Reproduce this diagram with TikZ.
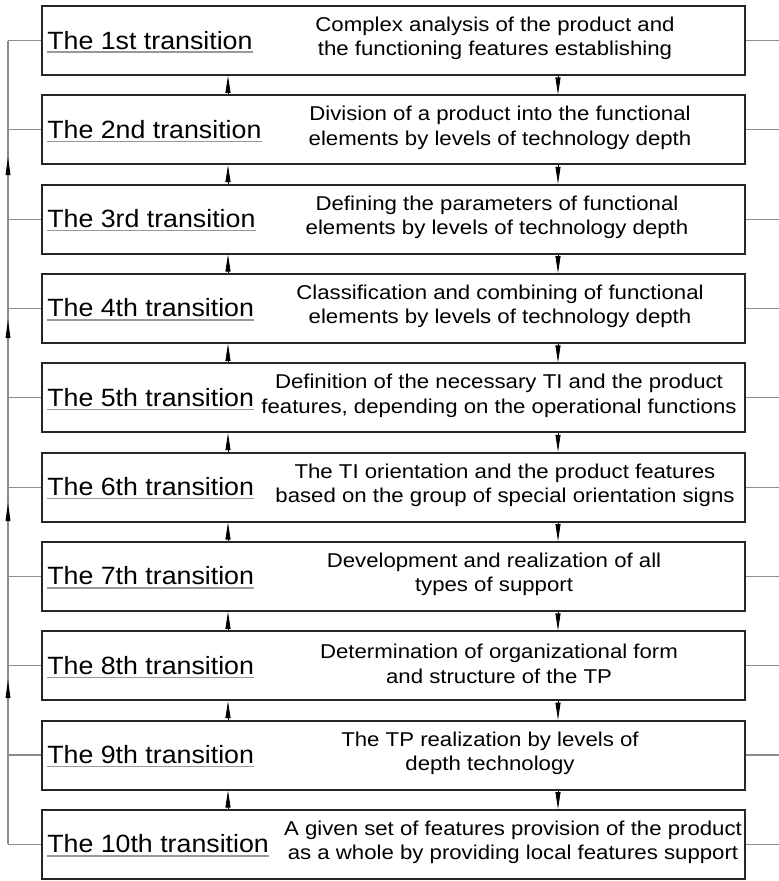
\documentclass[tikz,border=0pt]{standalone}
\usepackage{fontspec}
\setmainfont{Liberation Sans}
\newfontfamily\labfont[FakeStretch=1.07]{Liberation Sans}
\newfontfamily\descfont[FakeStretch=1.11]{Liberation Sans}
\usetikzlibrary{arrows.meta}
\begin{document}
\begin{tikzpicture}[x=1pt,y=-1pt,
  box/.style={draw=black!85, line width=1.8pt, minimum width=703pt, minimum height=69pt, inner sep=0pt},
  lab/.style={anchor=base west, inner sep=0pt, font=\labfont\fontsize{25}{30}\selectfont},
  desc/.style={align=center, inner sep=0pt, font=\descfont\fontsize{20}{24.5}\selectfont},
  conn/.style={draw=black!45, line width=1.3pt},
  uline/.style={draw=black!40, line width=1.2pt},
  flow/.style={line width=0.8pt, -{Triangle[length=17pt,width=5pt]}},
  sidetip/.style={fill=black},
]
\useasboundingbox (0,0) rectangle (779,881);
\coordinate (ux) at (228,0);
\coordinate (dx) at (558,0);
\foreach \i/\xc/\lab/\txt in {
 1/495/1st/{Complex analysis of the product and\\the functioning features establishing},
 2/500/2nd/{Division of a product into the functional\\elements by levels of technology depth},
 3/497/3rd/{Defining the parameters of functional\\elements by levels of technology depth},
 4/500/4th/{Classification and combining of functional\\elements by levels of technology depth},
 5/499/5th/{Definition of the necessary TI and the product\\features, depending on the operational functions},
 6/505/6th/{The TI orientation and the product features\\based on the group of special orientation signs},
 7/494/7th/{Development and realization of all\\types of support},
 8/499/8th/{Determination of organizational form\\and structure of the TP},
 9/490/9th/{The TP realization by levels of\\depth technology},
 10/513/10th/{A given set of features provision of the product\\as a whole by providing local features support}} {
  \pgfmathsetmacro\yc{40.5+89.33*(\i-1)}
  \node[box] (b\i) at (393.5,\yc) {};
  \node[lab] (l\i) at ([xshift=6pt,yshift=-8.5pt]b\i.west) {The \lab\ transition};
  \draw[uline] ([yshift=-3pt]l\i.base west) -- ([yshift=-3pt]l\i.base east);
  \node[desc] (d\i) at (\xc,\yc-2) {\txt};
  \coordinate (L\i) at (8,\yc);
  \coordinate (R\i) at (779,\yc);
  \draw[conn] (b\i.west) -- (L\i);
  \draw[conn] (b\i.east) -- (R\i);
}
\foreach \i [evaluate=\i as \j using int(\i+1)] in {1,...,9} {
  \draw[flow] (b\j.north -| ux) -- (b\i.south -| ux);
  \draw[flow] (b\i.south -| dx) -- (b\j.north -| dx);
}
\draw[conn] (L1) -- (L10);
\foreach \t in {157,320,503,680} {
  \fill[sidetip] (8,\t) -- (5.5,\t+18) -- (10.5,\t+18) -- cycle;
}
\end{tikzpicture}
\end{document}
